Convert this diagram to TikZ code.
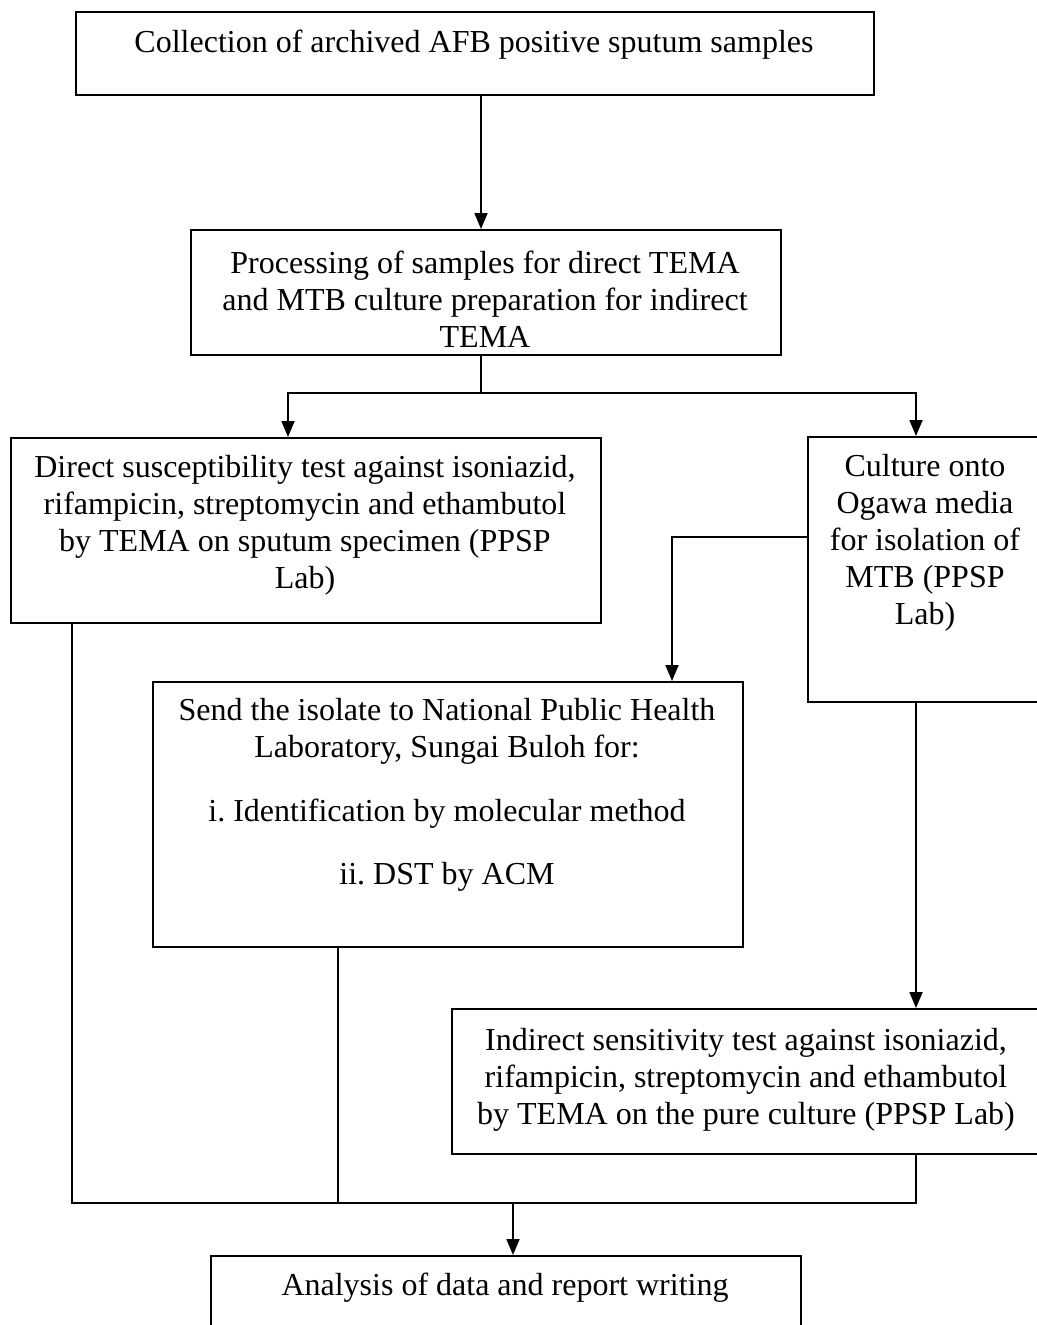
\documentclass[tikz,border=0pt]{standalone}
\usepackage{fontspec}
\setmainfont{Liberation Serif}
\usetikzlibrary{arrows.meta}
\begin{document}
\frenchspacing
\begin{tikzpicture}[x=1pt,y=-1pt,
  box/.style={draw, line width=2.2pt, inner sep=0pt, anchor=north west},
  txt/.style={align=center, inner sep=0pt, font=\fontsize{32}{37}\selectfont},
  conn/.style={line width=1.8pt},
  arr/.style={conn, -{Triangle[length=16pt,width=13pt]}}]
\useasboundingbox (0,0) rectangle (1036,1325);
% boxes
\node[box, minimum width=798pt, minimum height=83pt]  (b1) at (75,11) {};
\node[box, minimum width=590pt, minimum height=125pt] (b2) at (190,229) {};
\node[box, minimum width=590pt, minimum height=185pt] (b3) at (10,437) {};
\node[box, minimum width=236pt, minimum height=265pt] (b4) at (807,436) {};
\node[box, minimum width=590pt, minimum height=265pt] (b5) at (152,681) {};
\node[box, minimum width=590pt, minimum height=145pt] (b6) at (451,1008) {};
\node[box, minimum width=590pt, minimum height=120pt] (b7) at (210,1255) {};
% texts
\node[txt] (t1) at (474,45) {Collection of archived AFB positive sputum samples};
\node[txt] (t2) at (485,299) {Processing of samples for direct TEMA\\and MTB culture preparation for indirect\\TEMA};
\node[txt] (t3) at (305,525) {Direct susceptibility test against isoniazid,\\rifampicin, streptomycin and ethambutol\\by TEMA on sputum specimen (PPSP\\Lab)};
\node[txt] (t4) at (925,543) {Culture onto\\Ogawa media\\for isolation of\\MTB (PPSP\\Lab)};
\node[txt] (t5) at (447,795) {Send the isolate to National Public Health\\Laboratory, Sungai Buloh for:\\[27pt]i. Identification by molecular method\\[26pt]ii. DST by ACM};
\node[txt] (t6) at (746,1080) {Indirect sensitivity test against isoniazid,\\rifampicin, streptomycin and ethambutol\\by TEMA on the pure culture (PPSP Lab)};
\node[txt] (t7) at (505,1288) {Analysis of data and report writing};
% helper coordinates
\coordinate (xa) at (481,0);
\coordinate (xb) at (288,0);
\coordinate (xc) at (916,0);
\coordinate (xd) at (672,0);
\coordinate (xe) at (72,0);
\coordinate (xf) at (338,0);
\coordinate (yb) at (0,537);
\coordinate (j1) at (481,393);
\coordinate (j2) at (513,1203);
% connectors
\draw[arr] (b1.south -| xa) -- (b2.north -| xa);
\draw[conn] (b2.south -| xa) -- (j1);
\draw[arr] (j1) -| (b3.north -| xb);
\draw[arr] (j1) -| (b4.north -| xc);
\draw[arr] (b4.west |- yb) -| (b5.north -| xd);
\draw[arr] (b4.south -| xc) -- (b6.north -| xc);
\draw[conn] (b3.south -| xe) |- (j2) -| (b6.south -| xc);
\draw[conn] (b5.south -| xf) -- (xf |- j2);
\draw[arr] (j2) -- (b7.north -| j2);
\end{tikzpicture}
\end{document}
